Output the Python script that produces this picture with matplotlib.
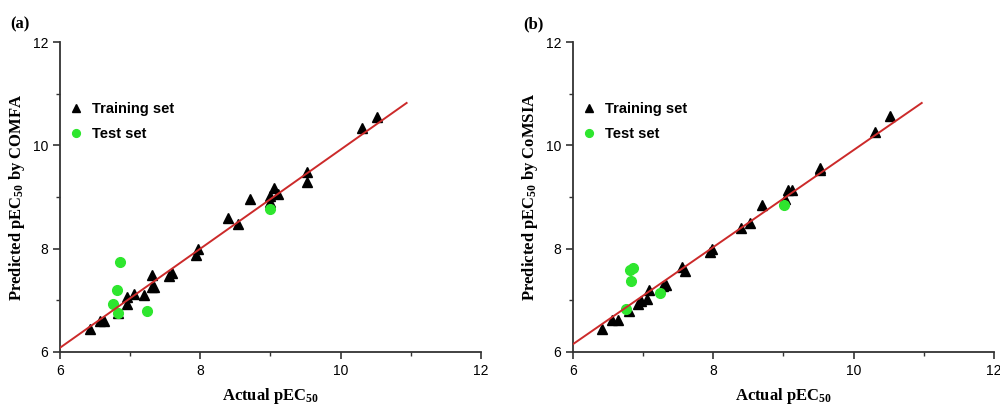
import numpy as np
import matplotlib
matplotlib.use("Agg")
import matplotlib.pyplot as plt
from matplotlib.ticker import MultipleLocator

plt.rcParams['font.family'] = ['Liberation Sans', 'DejaVu Sans']
plt.rcParams['mathtext.fontset'] = 'custom'
plt.rcParams['mathtext.rm'] = 'Liberation Serif:bold'
plt.rcParams['mathtext.bf'] = 'Liberation Serif:bold'
plt.rcParams['mathtext.it'] = 'Liberation Serif:bold'

# panel (a) CoMFA
train_a_x = [6.43, 6.57, 6.63, 6.82, 6.96, 6.96, 7.06, 7.20, 7.31, 7.31, 7.34, 7.56, 7.59,
             7.94, 7.97, 8.40, 8.53, 8.71, 9.05, 9.00, 9.11, 9.00, 9.52, 9.52, 10.30, 10.52]
train_a_y = [6.44, 6.60, 6.59, 6.76, 6.92, 7.07, 7.12, 7.10, 7.26, 7.49, 7.26, 7.46, 7.52,
             7.88, 7.99, 8.59, 8.48, 8.96, 9.17, 9.02, 9.06, 8.91, 9.49, 9.28, 10.33, 10.54]
test_a_x = [6.86, 6.81, 6.75, 6.83, 7.24, 9.00]
test_a_y = [7.74, 7.20, 6.93, 6.76, 6.79, 8.77]
line_a_x = [6.0, 10.94]
line_a_y = [6.08, 10.82]

# panel (b) CoMSIA
train_b_x = [6.42, 6.55, 6.64, 6.80, 6.93, 6.97, 7.06, 7.09, 7.28, 7.33, 7.56, 7.59,
             7.95, 7.98, 8.40, 8.52, 8.70, 9.02, 9.06, 9.12, 9.52, 9.52, 10.30, 10.52]
train_b_y = [6.45, 6.61, 6.62, 6.80, 6.93, 6.99, 7.03, 7.19, 7.28, 7.30, 7.64, 7.57,
             7.94, 7.99, 8.40, 8.50, 8.84, 8.96, 9.14, 9.14, 9.57, 9.53, 10.25, 10.56]
test_b_x = [6.81, 6.86, 6.83, 6.76, 7.24, 9.01]
test_b_y = [7.59, 7.63, 7.38, 6.83, 7.14, 8.85]
line_b_x = [6.0, 10.97]
line_b_y = [6.15, 10.82]

panels = [
    ("(a)", "COMFA", train_a_x, train_a_y, test_a_x, test_a_y, line_a_x, line_a_y),
    ("(b)", "CoMSIA", train_b_x, train_b_y, test_b_x, test_b_y, line_b_x, line_b_y),
]

fig = plt.figure(figsize=(10, 4.04), dpi=100)
lefts = [0.060, 0.573]
green = '#2ee62e'
red = '#cc2a2a'

for left, (tag, method, tx, ty, sx, sy, lx, ly) in zip(lefts, panels):
    ax = fig.add_axes([left, 0.129, 0.421, 0.767])
    ax.plot(tx, ty, '^', color='black', ms=7.5, label='Training set', zorder=3)
    ax.plot(sx, sy, 'o', color=green, ms=7, label='Test set', zorder=4)
    ax.plot(lx, ly, '-', color=red, lw=1.4, zorder=5)
    ax.set_xlim(6, 12)
    ax.set_ylim(6, 12)
    for s in ['top', 'right']:
        ax.spines[s].set_visible(False)
    for s in ['left', 'bottom']:
        ax.spines[s].set_linewidth(1.3)
        ax.spines[s].set_color('#333333')
    ax.xaxis.set_major_locator(MultipleLocator(2))
    ax.yaxis.set_major_locator(MultipleLocator(2))
    ax.xaxis.set_minor_locator(MultipleLocator(1))
    ax.yaxis.set_minor_locator(MultipleLocator(1))
    ax.tick_params(which='major', direction='out', length=5, width=1.2, labelsize=10, color='#333333')
    ax.tick_params(which='minor', direction='out', length=3, width=1.0, color='#333333')
    ax.set_xlabel(r'Actual pEC$_{50}$', family='Liberation Serif', fontweight='bold',
                  fontsize=12, labelpad=6)
    ax.set_ylabel('Predicted pEC$_{50}$ by ' + method, family='Liberation Serif',
                  fontweight='bold', fontsize=12, labelpad=4)
    ax.legend(loc='upper left', bbox_to_anchor=(0.0, 0.835), frameon=False,
              prop={'weight': 'bold', 'size': 10.5}, handletextpad=0.6, markerscale=0.8,
              handlelength=1.0, borderaxespad=0.2, labelspacing=0.75)
    fig.text(left - 0.05, 0.93, tag, family='Liberation Serif', fontweight='bold', fontsize=12)

fig.savefig('out.png', dpi=100)
